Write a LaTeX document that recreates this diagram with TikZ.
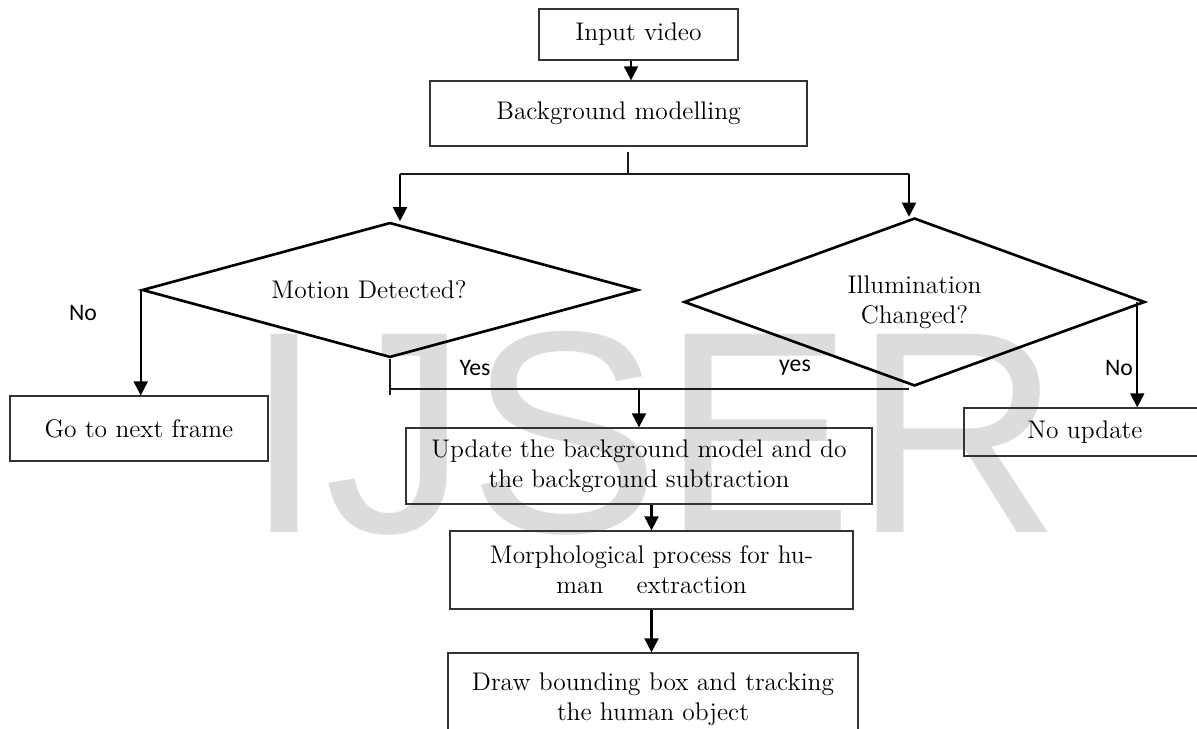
\documentclass[tikz,border=0pt]{standalone}
\usepackage{fontspec}
\usepackage{xcolor}
\usetikzlibrary{shapes.geometric,arrows.meta,positioning,calc}
\newfontfamily\lblfont{Carlito}
\newfontfamily\wmfont{Liberation Sans}
\definecolor{flowline}{HTML}{1A1A1A}
\definecolor{flowbox}{HTML}{333333}
\definecolor{wmgray}{HTML}{DCDCDC}

\begin{document}
\begin{tikzpicture}[
    x=0.02cm,y=-0.02cm,
    box/.style   = {rectangle, draw=flowbox, line width=0.75pt, align=center,
                    font=\fontsize{14.5}{17}\selectfont, inner sep=2pt},
    dec/.style   = {diamond, draw=black, line width=1.5pt, align=center,
                    font=\fontsize{14.5}{17}\selectfont, inner sep=0pt},
    arr/.style   = {-{Triangle[length=2.8mm,width=2.8mm]}, black, line width=1.2pt},
    lien/.style  = {flowline, line width=0.6pt},
    lbl/.style   = {font=\lblfont\fontsize{13.5}{16}\selectfont, inner sep=0pt},
  ]

  \clip (0,0) rectangle (1197,729);

  \node[font=\wmfont\fontsize{164}{164}\selectfont, text=wmgray, anchor=base,
        inner sep=0pt] (wm) at (653,532) {IJSER};

  \node[box, minimum width=3.98cm, minimum height=1.02cm] (inp) at (638.5,34.5) {Input video};
  \node[box, minimum width=7.54cm, minimum height=1.30cm] (bgm) at (618.5,113.5) {Background modelling};

  \node[dec, aspect=3.67, minimum width=9.92cm, minimum height=2.70cm] (mot) at (390,290)
       {Motion Detected?\hspace*{0.84cm}};
  \node[dec, aspect=2.74, minimum width=9.22cm, minimum height=3.36cm] (ill) at (914.5,302)
       {Illumination\\Changed?};

  \node[box, minimum width=5.16cm, minimum height=1.30cm] (go)  at (139,428.5) {Go to next frame};
  \node[box, minimum width=9.32cm, minimum height=1.52cm] (upd) at (639,466)
       {Update the background model and do\\the background subtraction};
  \node[box, minimum width=4.84cm, minimum height=0.96cm] (nou) at (1085,432) {No update};
  \node[box, minimum width=8.06cm, minimum height=1.56cm] (mor) at (651.5,570)
       {Morphological process for hu-\\man\hspace{1.3em}extraction};
  \node[box, minimum width=8.20cm, minimum height=1.84cm] (drw) at (653,699)
       {Draw bounding box and tracking\\the human object};

  \node[lbl] (nol)  at (83,313)   {No};
  \node[lbl] (yesl) at (475,368)  {Yes};
  \node[lbl] (yesr) at (795,368)  {yes};
  \node[lbl] (nor)  at (1119,368) {No};

  \coordinate (sp)  at (628,174);
  \coordinate (spl) at (400,174);
  \coordinate (spr) at (909,174);
  \coordinate (yl)  at (390,389);
  \coordinate (yr)  at (909,389);

  \draw[arr] ([xshift=-0.15cm]inp.south) -- ([xshift=-0.15cm]inp.south |- bgm.north);
  \draw[lien] ([yshift=-0.1cm]sp |- bgm.south) -- (sp);
  \draw[lien] (spl) -- (spr);
  \draw[arr] (spl) -- (spl |- mot.north);
  \draw[arr] (spr) -- (spr |- ill.north);

  \draw[arr] (mot.west) -- (mot.west |- go.north);
  \draw[lien] (mot.south) -- ([yshift=-0.12cm]yl);
  \draw[lien] (yl) -- (yr);
  \draw[arr] (yl -| upd.north) -- (upd.north);
  \draw[arr] ([xshift=-0.18cm]ill.east) -- ([xshift=-0.18cm]ill.east |- nou.north);

  \draw[arr] (mor.north |- upd.south) -- (mor.north);
  \draw[arr] (mor.south) -- (mor.south |- drw.north);

\end{tikzpicture}
\end{document}
